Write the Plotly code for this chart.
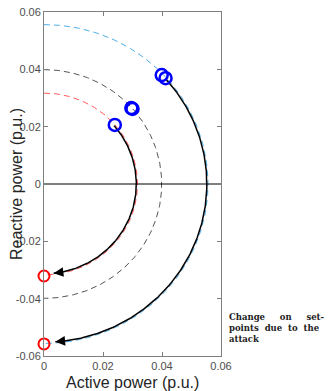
import numpy as np
import plotly.graph_objects as go

# --- data ---
# capability limits (radius, p.u.) drawn as dashed half circles
limit_radius = [0.0556, 0.0399, 0.0317]
limit_colors = ["#4DAEE8", "#555555", "#FF5A5A"]

# set-point trajectories (radius, start angle deg, end angle deg)
traj_radius = [0.0552, 0.0313]
traj_start_deg = [41.8, 40.6]
traj_end_deg = [-86.0, -84.0]

# initial set-points (blue circles)
init_p = [0.0399, 0.0412, 0.0296, 0.0300, 0.0240]
init_q = [0.0380, 0.0369, 0.0265, 0.0262, 0.0206]

# set-points after the attack (red circles)
att_p = [0.0, 0.0]
att_q = [-0.0558, -0.0321]

x_ticks = [0, 0.02, 0.04, 0.06]
x_ticklabels = ["0", "0.02", "0.04", "0.06"]
y_ticks = [0.06, 0.04, 0.02, 0, -0.02, -0.04, -0.06]
y_ticklabels = ["0.06", "0.04", "0.02", "0", "-0.02", "-0.04", "-0.06"]

fig = go.Figure()

# dashed limit circles
for r, c in zip(limit_radius, limit_colors):
    th = np.radians(np.linspace(90, -90, 200))
    fig.add_trace(go.Scatter(x=r * np.cos(th), y=r * np.sin(th), mode="lines",
                             line=dict(color=c, width=1, dash="6px,4px"),
                             hoverinfo="skip", showlegend=False))

# zero line
fig.add_trace(go.Scatter(x=[0, 0.06], y=[0, 0], mode="lines",
                         line=dict(color="black", width=1), showlegend=False))

# trajectories
for r, a0, a1 in zip(traj_radius, traj_start_deg, traj_end_deg):
    th = np.radians(np.linspace(a0, a1, 200))
    x = r * np.cos(th)
    y = r * np.sin(th)
    fig.add_trace(go.Scatter(x=x, y=y, mode="lines",
                             line=dict(color="black", width=1.5), showlegend=False))
    fig.add_annotation(x=x[-1], y=y[-1], ax=x[-6], ay=y[-6],
                       xref="x", yref="y", axref="x", ayref="y",
                       showarrow=True, arrowhead=2, arrowsize=1.3,
                       arrowwidth=1.5, arrowcolor="black", text="")

fig.add_trace(go.Scatter(x=init_p, y=init_q, mode="markers",
                         marker=dict(symbol="circle-open", size=12, color="blue",
                                     line=dict(width=2.5, color="blue")),
                         cliponaxis=False, showlegend=False))
fig.add_trace(go.Scatter(x=att_p, y=att_q, mode="markers",
                         marker=dict(symbol="circle-open", size=11, color="red",
                                     line=dict(width=2, color="red")),
                         cliponaxis=False, showlegend=False))

fig.add_annotation(xref="paper", yref="paper", x=1.035, y=0.135,
                   xanchor="left", yanchor="top", showarrow=False, align="left",
                   text="<b>Change&nbsp;&nbsp;&nbsp;&nbsp;&nbsp;on&nbsp;&nbsp;&nbsp;&nbsp;&nbsp;set-</b><br>"
                        "<b>points&nbsp;&nbsp;due&nbsp;&nbsp;to&nbsp;&nbsp;the</b><br><b>attack</b>",
                   font=dict(family="DejaVu Serif", size=8.5, color="#222222"))

# axis titles
title_font = dict(family="Liberation Sans, Arial", size=16, color="#262626")
fig.add_annotation(xref="paper", yref="paper", x=0.5, y=-0.078, xanchor="center",
                   yanchor="middle", showarrow=False, text="Active power (p.u.)",
                   font=title_font)
fig.add_annotation(xref="paper", yref="paper", x=-0.158, y=0.5, xanchor="center",
                   yanchor="middle", showarrow=False, text="Reactive power (p.u.)",
                   textangle=-90, font=title_font)

axis_common = dict(showgrid=False, zeroline=False, showline=True, linecolor="#808080",
                   linewidth=1, mirror="ticks", ticks="inside", ticklen=4,
                   tickcolor="#808080", automargin=False,
                   tickfont=dict(family="Liberation Sans, Arial", size=11, color="#4d4d4d"))

fig.update_xaxes(range=[0, 0.06], tickvals=x_ticks, ticktext=x_ticklabels, **axis_common)
fig.update_yaxes(range=[-0.06, 0.06], tickvals=y_ticks, ticktext=y_ticklabels, **axis_common)

fig.update_layout(width=329, height=391, margin=dict(l=44, r=108, t=12, b=35),
                  plot_bgcolor="white", paper_bgcolor="white")

fig.write_html("out.html", config={"displayModeBar": False},
               post_script="document.body.style.margin='0';document.body.style.overflow='hidden';")
